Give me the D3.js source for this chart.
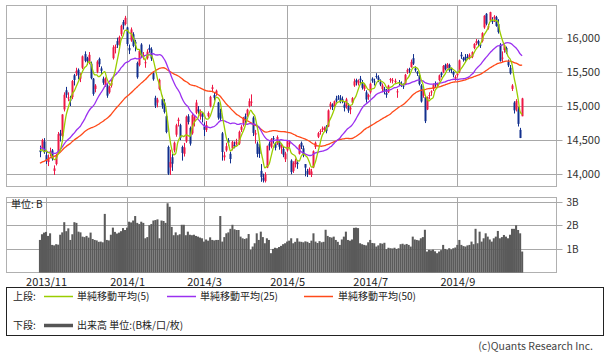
<!DOCTYPE html>
<html><head><meta charset="utf-8">
<script src="https://cdn.jsdelivr.net/npm/d3@7/dist/d3.min.js"></script>
<style>
body{margin:0;background:#fff}
svg{display:block}
text{font-family:"Noto Sans CJK JP","Noto Sans",sans-serif}
</style>
</head><body>
<svg id="c" width="610" height="358"></svg>
<script>
// ---- data ----
const tradingDays = [
 ["2013/10",[29,30,31]],
 ["2013/11",[1,5,6,7,8,11,12,13,14,15,18,19,20,21,22,25,26,27,28,29]],
 ["2013/12",[2,3,4,5,6,9,10,11,12,13,16,17,18,19,20,24,25,26,27,30]],
 ["2014/01",[6,7,8,9,10,14,15,16,17,20,21,22,23,24,27,28,29,30,31]],
 ["2014/02",[3,4,5,6,7,10,12,13,14,17,18,19,20,21,24,25,26,27,28]],
 ["2014/03",[3,4,5,6,7,10,11,12,13,14,17,18,19,20,24,25,26,27,28,31]],
 ["2014/04",[1,2,3,4,7,8,9,10,11,14,15,16,17,18,21,22,23,24,25,28,30]],
 ["2014/05",[1,2,7,8,9,12,13,14,15,16,19,20,21,22,23,26,27,28,29,30]],
 ["2014/06",[2,3,4,5,6,9,10,11,12,13,16,17,18,19,20,23,24,25,26,27,30]],
 ["2014/07",[1,2,3,4,7,8,9,10,11,14,15,16,17,18,22,23,24,25,28,29,30,31]],
 ["2014/08",[1,4,5,6,7,8,11,12,13,14,15,18,19,20,21,22,25,26,27,28,29]],
 ["2014/09",[1,2,3,4,5,8,9,10,11,12,16,17,18,19,22,24,25,26,29,30]],
 ["2014/10",[1,2,3,6,7,8,9,10,14,15,16,17,20]]
];
// closes before the first visible day (needed for the moving averages)
const priorCloses = [13650,13758,13397,13424,13366,13660,13636,13542,13338,13459,13389,
 13572,13978,14053,14064,13860,14205,14423,14425,14387,14404,14311,14505,14766,14742,14734,14620,14799,14760,14456,
 14485,14170,14157,14024,13853,13894,14037,14194,14404,14441,14467,14586,14561,14693,14713,14426,14486,14088,14396];
const opens = [
14350,14380,14480,14280,14180,14300,14350,14050,14150,14300,
14600,14560,14950,15230,15120,15100,15130,15450,15480,15530,
15400,15560,15760,15700,15650,15620,15400,15250,15500,15690,
15550,15400,15300,15300,15200,15300,15700,15850,15950,15900,
16050,16230,16200,16150,15850,15960,16050,15940,15630,15600,
15900,15720,15640,15700,15850,15830,15480,15120,15050,15250,
15100,15050,14850,14400,14100,14250,14350,14580,14780,14720,
14400,14300,14480,14850,14680,14600,14770,14900,14950,14850,
14880,14700,14650,14850,15000,15250,15160,15180,15050,14900,
14600,14250,14350,14500,14300,14380,14430,14440,14450,14650,
14750,14850,14860,15000,15050,14830,14580,14450,14400,14050,
13950,13900,14100,14450,14400,14530,14450,14450,14480,14380,
14370,14220,14350,14440,14200,14050,14150,14170,14300,14460,
14380,14150,14050,14000,13990,14100,14400,14550,14620,14660,
14650,14700,14700,14990,15020,15000,15110,15140,15120,15100,
15020,15000,15000,14950,15050,15300,15380,15330,15400,15340,
15250,15200,15130,15200,15400,15360,15440,15420,15350,15250,
15250,15190,15200,15380,15370,15350,15200,15350,15330,15300,
15320,15500,15540,15570,15700,15550,15500,15450,15300,15150,
15130,14950,15150,15200,15250,15330,15300,15380,15480,15500,
15600,15560,15600,15540,15500,15400,15450,15500,15750,15700,
15720,15720,15700,15720,15850,15920,15950,15900,15950,16150,
16350,16150,16250,16250,16280,16300,16200,15900,15700,15820,
15850,15650,15560,15250,15050,14950,14950,14650,14850];
const highs = [
14420,14520,14530,14330,14290,14390,14370,14130,14300,14620,
14650,14880,15200,15280,15200,15150,15380,15470,15560,15550,
15480,15740,15800,15720,15790,15650,15410,15320,15670,15710,
15580,15430,15420,15320,15300,15380,15890,15900,16000,16030,
16190,16260,16320,16160,15900,16150,16080,15970,15650,15820,
15920,15790,15680,15830,15900,15860,15500,15150,15120,15400,
15150,15100,14880,14420,14360,14300,14480,14740,14830,14740,
14420,14460,14860,14880,14700,14880,14860,15090,15000,14950,
14900,14760,14780,14920,15150,15310,15190,15240,15060,14960,
14620,14330,14460,14530,14330,14490,14480,14520,14640,14720,
14840,14890,14960,15110,15170,14850,14650,14480,14440,14150,
14010,14030,14420,14480,14530,14560,14470,14570,14500,14450,
14400,14330,14500,14500,14220,14190,14230,14190,14440,14480,
14420,14150,14080,14100,14080,14350,14480,14620,14660,14700,
14700,14720,14950,15060,15040,15080,15150,15160,15160,15140,
15060,15120,15040,15000,15130,15400,15400,15390,15440,15380,
15330,15230,15180,15340,15420,15400,15480,15450,15390,15330,
15280,15250,15310,15410,15410,15400,15250,15380,15360,15330,
15470,15550,15560,15680,15760,15580,15510,15460,15320,15250,
15160,15140,15200,15230,15330,15360,15340,15460,15500,15600,
15620,15630,15620,15560,15510,15450,15500,15680,15790,15720,
15760,15760,15770,15800,15920,15980,15970,15920,16080,16330,
16360,16200,16380,16300,16330,16320,16270,15920,15800,15900,
15870,15680,15600,15320,15070,15100,14990,14680,15120];
const lows = [
14250,14360,14300,14150,14120,14260,14200,13990,14130,14290,
14480,14540,14920,15120,15070,15000,15100,15300,15440,15390,
15350,15540,15640,15600,15610,15390,15150,15200,15480,15570,
15470,15310,15280,15120,15180,15270,15680,15770,15850,15880,
16020,16120,16180,15880,15760,15940,15860,15800,15400,15580,
15720,15680,15560,15680,15780,15660,15370,14970,14980,15230,
14960,14890,14600,13990,13990,14050,14320,14550,14700,14500,
14200,14260,14460,14730,14420,14580,14700,14880,14880,14800,
14760,14560,14620,14830,14980,15200,15080,15150,14800,14780,
14200,14200,14330,14420,14160,14350,14380,14420,14430,14620,
14700,14720,14840,14980,15000,14560,14450,14250,14240,13890,
13880,13880,14090,14350,14380,14450,14350,14430,14360,14300,
14250,14180,14330,14400,14000,14020,14100,14080,14290,14370,
14250,13970,13960,13990,13960,14090,14370,14530,14580,14620,
14630,14600,14690,14950,14940,14980,15050,15090,15040,15040,
14920,14960,14900,14880,15020,15280,15300,15300,15330,15240,
15220,15050,15090,15180,15340,15300,15400,15350,15290,15200,
15170,15120,15190,15340,15330,15330,15120,15300,15280,15250,
15310,15470,15480,15560,15600,15500,15440,15300,15050,15120,
14750,14940,15100,15150,15220,15280,15270,15360,15420,15480,
15520,15550,15500,15480,15420,15370,15420,15480,15690,15650,
15640,15680,15680,15700,15830,15890,15880,15850,15930,16130,
16180,16120,16240,16200,16230,16160,16060,15650,15640,15780,
15760,15570,15460,15220,14890,14920,14700,14530,14850];
const closes = [
14325,14502,14327,14201,14225,14337,14228,14086,14269,14588,
14567,14876,15165,15164,15126,15076,15365,15381,15515,15449,
15449,15727,15661,15654,15749,15407,15177,15299,15650,15611,
15515,15341,15403,15152,15279,15337,15859,15870,15889,16009,
16174,16178,16291,15908,15814,16121,15880,15912,15422,15808,
15747,15734,15641,15795,15820,15695,15391,15005,15094,15383,
15007,14914,14619,14008,14180,14155,14462,14718,14800,14534,
14313,14393,14843,14766,14449,14865,14837,15051,14923,14924,
14841,14652,14721,14897,15134,15274,15120,15224,14830,14815,
14327,14277,14411,14462,14224,14475,14423,14477,14622,14696,
14827,14791,14946,15071,15063,14606,14606,14299,14300,13960,
13910,13996,14417,14417,14516,14512,14388,14546,14404,14429,
14288,14304,14485,14457,14033,14163,14199,14149,14425,14405,
14298,14097,14006,14075,14042,14337,14462,14602,14636,14670,
14681,14632,14935,15034,14983,15069,15077,15124,15069,15069,
14973,15097,14933,14975,15115,15361,15349,15369,15376,15266,
15308,15095,15162,15326,15369,15348,15437,15379,15314,15302,
15216,15164,15297,15395,15379,15370,15215,15343,15328,15284,
15457,15529,15530,15646,15620,15523,15474,15320,15066,15232,
14778,15130,15161,15213,15314,15318,15322,15449,15454,15586,
15539,15613,15521,15534,15459,15424,15476,15668,15728,15676,
15668,15705,15749,15788,15909,15948,15911,15888,16067,16321,
16205,16167,16374,16229,16310,16173,16082,15661,15708,15890,
15783,15595,15478,15300,14936,15073,14738,14532,15111];
// volume, billions of shares
const volumes = [
1.38,1.62,1.69,1.72,1.55,1.66,1.17,1.15,1.2,1.18,
1.6,1.7,2.13,1.75,1.87,1.38,1.62,2.13,2.1,1.73,
1.7,1.52,1.5,1.55,1.48,1.69,1.42,1.38,1.36,1.3,
1.31,1.28,2.48,1.38,1.36,1.6,1.9,1.72,1.65,1.69,
1.75,1.88,1.8,1.9,2.15,2.12,2.2,2.39,2.1,2.05,
2.15,2.1,1.45,1.5,2.0,2.05,2.2,2.22,2.25,1.45,
2.2,2.18,2.1,2.93,2.78,1.93,1.58,1.7,1.58,1.62,
2.02,2.02,1.58,1.73,1.6,1.58,1.6,1.55,1.52,1.48,
1.45,1.31,1.4,1.35,1.49,1.38,1.36,1.38,1.38,2.39,
1.31,1.5,1.66,1.7,1.85,2.02,1.83,1.8,1.8,1.52,
1.45,1.42,1.45,1.63,0.96,1.1,1.24,1.66,1.38,1.73,
1.5,1.24,1.45,1.38,0.82,1.0,1.05,1.03,1.08,1.13,
1.2,1.24,1.31,1.35,1.45,1.24,1.3,1.45,1.31,1.3,
1.28,1.32,1.3,1.25,1.35,1.66,1.31,1.25,1.33,1.28,
1.3,1.81,1.55,1.5,1.48,1.52,1.38,1.3,1.17,1.4,
1.52,1.73,1.38,1.35,1.4,1.89,1.9,1.88,1.24,1.2,
1.17,1.15,1.28,1.38,1.25,1.24,1.1,1.15,1.24,1.22,
1.26,0.99,1.05,1.03,1.02,1.05,1.0,1.03,1.2,1.22,
1.18,1.21,1.17,1.1,1.52,1.4,1.38,1.36,1.45,1.5,
1.81,0.89,0.96,0.94,0.97,0.9,0.82,0.89,0.95,1.17,
1.0,0.96,1.03,0.98,1.03,1.06,1.17,1.38,1.17,1.12,
1.1,1.15,1.17,1.31,1.2,1.85,1.24,1.73,1.31,1.45,
1.66,1.52,1.4,1.31,1.45,1.52,1.76,1.45,1.5,1.59,
1.52,1.45,1.6,1.85,1.85,2.0,1.8,1.66,0.89];
const priceTicks = [14000,14500,15000,15500,16000];
const volumeTicks = [1,2,3];
const maPeriods = [5,25,50];
const tickMonths = [11,1,3,5,7,9];
const legendLabels = ["単純移動平均(5)","単純移動平均(25)","単純移動平均(50)"];
const volumeLegend = "出来高 単位:(B株/口/枚)";

// ---- derived ----
const dates = tradingDays.flatMap(([m, ds]) => ds.map(d => m + "/" + String(d).padStart(2, "0")));
const N = closes.length;
const idx = d3.range(N);
const allCloses = priorCloses.concat(closes);
const P = priorCloses.length;
const maSeries = maPeriods.map(n => idx.map(i => ({i, v: d3.mean(allCloses.slice(P + i - n + 1, P + i + 1))})));
const tickIdx = idx.filter(i => {
  const m = +dates[i].slice(5, 7);
  return (i === 0 || dates[i - 1].slice(5, 7) !== dates[i].slice(5, 7)) && tickMonths.includes(m) && i > 0;
});
const tickLabel = i => dates[i].slice(0, 4) + "/" + (+dates[i].slice(5, 7));

// ---- layout ----
const L = 6.5, R = 556.5;
const mainTop = 5.5, mainBot = 186.5;
const volTop = 197.5, volBot = 272.5;
const svg = d3.select("#c");
const x = d3.scaleLinear().domain([-17, 255]).range([5.5, 556.6]);
const y = d3.scaleLinear().domain([14000, 16000]).range([174.3, 37.7]);
const yv = d3.scaleLinear().domain([0, 3]).range([272.6, 201.6]);
const gridC = "#a8a8a8";
const upC = "#ee1846", downC = "#12308e";
const maC = ["#9acd00", "#9b30f0", "#ff4a1a"];
const snap = v => Math.round(v) + 0.5;

// panels
[[mainTop, mainBot], [volTop, volBot]].forEach(([t, b]) => {
  svg.append("rect").attr("x", L).attr("y", t).attr("width", R - L).attr("height", b - t)
    .attr("fill", "#fff").attr("stroke", "#b0b0b0").attr("stroke-width", 1);
  svg.append("g").selectAll("line").data(tickIdx).join("line")
    .attr("x1", d => snap(x(d))).attr("x2", d => snap(x(d)))
    .attr("y1", t).attr("y2", b).attr("stroke", gridC).attr("stroke-width", 1);
});

// price axis (right) with gridlines
const ya = svg.append("g").attr("transform", `translate(${L},0)`)
  .call(d3.axisRight(y).tickValues(priceTicks).tickSize(R - L + 6).tickPadding(4).tickFormat(d3.format(",")));
ya.select(".domain").remove();
ya.selectAll("line").attr("stroke", gridC).attr("transform", function(){return null;});
ya.selectAll(".tick").attr("transform", d => `translate(0,${snap(y(d))})`);
ya.selectAll("text").attr("font-size", 11).attr("fill", "#333").attr("font-family", "'Noto Sans CJK JP'");

// volume axis
const va = svg.append("g").attr("transform", `translate(${L},0)`)
  .call(d3.axisRight(yv).tickValues(volumeTicks).tickSize(R - L + 6).tickPadding(4).tickFormat(d => d + "B"));
va.select(".domain").remove();
va.selectAll("line").attr("stroke", gridC);
va.selectAll(".tick").attr("transform", d => `translate(0,${snap(yv(d))})`);
va.selectAll("text").attr("font-size", 10).attr("fill", "#333");

// x labels
const xa = svg.append("g").attr("transform", `translate(0,${volBot})`)
  .call(d3.axisBottom(x).tickValues(tickIdx).tickSize(0).tickPadding(6).tickFormat(tickLabel));
xa.select(".domain").remove();
xa.selectAll("text").attr("font-size", 11).attr("fill", "#222");

// volume bars
svg.append("g").selectAll("rect").data(idx).join("rect")
  .attr("x", i => x(i) - 1.02).attr("width", 2.05)
  .attr("y", i => yv(volumes[i])).attr("height", i => yv(0) - yv(volumes[i]))
  .attr("fill", "#5a5a5a");

svg.append("text").attr("x", 11).attr("y", 208).attr("font-size", 10).attr("fill", "#222").text("単位: B");

// candles
const cg = svg.append("g");
cg.selectAll("line").data(idx).join("line")
  .attr("x1", i => Math.round(x(i)) + 0.5).attr("x2", i => Math.round(x(i)) + 0.5)
  .attr("y1", i => y(highs[i])).attr("y2", i => y(lows[i]))
  .attr("stroke", i => closes[i] >= opens[i] ? upC : downC).attr("stroke-width", 1);
cg.selectAll("rect").data(idx).join("rect")
  .attr("x", i => Math.round(x(i)) - 0.5).attr("width", 2)
  .attr("y", i => y(Math.max(opens[i], closes[i])))
  .attr("height", i => Math.max(1, Math.abs(y(opens[i]) - y(closes[i]))))
  .attr("fill", i => closes[i] >= opens[i] ? upC : downC);

// moving averages
const line = d3.line().x(d => x(d.i)).y(d => y(d.v)).curve(d3.curveMonotoneX);
[2, 1, 0].forEach(k => {
  svg.append("path").datum(maSeries[k]).attr("d", line)
    .attr("fill", "none").attr("stroke", maC[k]).attr("stroke-width", 1.3);
});

// legend
svg.append("rect").attr("x", 6.5).attr("y", 287.5).attr("width", 597).attr("height", 48)
  .attr("fill", "none").attr("stroke", "#222").attr("stroke-width", 1);
const row1 = 300, row2 = 329;
svg.append("text").attr("x", 13).attr("y", row1).attr("font-size", 10).attr("fill", "#222").text("上段:");
const legX = [[44, 77], [167, 200], [304, 338]];
legendLabels.forEach((t, k) => {
  svg.append("line").attr("x1", legX[k][0]).attr("x2", legX[k][0] + 29).attr("y1", row1 - 3.5).attr("y2", row1 - 3.5)
    .attr("stroke", maC[k]).attr("stroke-width", 1.5);
  svg.append("text").attr("x", legX[k][1]).attr("y", row1).attr("font-size", 10).attr("fill", "#222").text(t);
});
svg.append("text").attr("x", 13).attr("y", row2).attr("font-size", 10).attr("fill", "#222").text("下段:");
svg.append("line").attr("x1", 44).attr("x2", 73).attr("y1", row2 - 3.5).attr("y2", row2 - 3.5)
  .attr("stroke", "#555").attr("stroke-width", 3.5);
svg.append("text").attr("x", 77).attr("y", row2).attr("font-size", 10).attr("fill", "#222").text(volumeLegend);

svg.append("text").attr("x", 593).attr("y", 350).attr("text-anchor", "end").attr("font-size", 10.5)
  .attr("fill", "#444").text("(c)Quants Research Inc.");
</script>
</body></html>
